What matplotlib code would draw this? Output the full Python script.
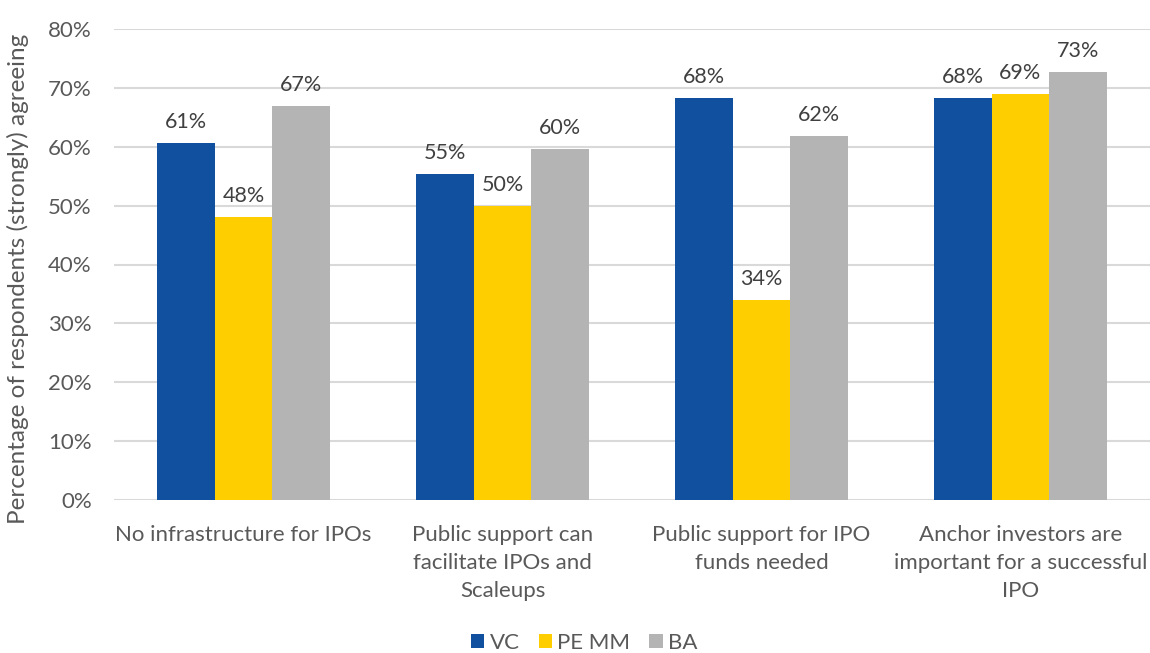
import matplotlib
matplotlib.use("Agg")
import matplotlib.pyplot as plt
import numpy as np

categories = ["No infrastructure for IPOs",
              "Public support can\nfacilitate IPOs and\nScaleups",
              "Public support for IPO\nfunds needed",
              "Anchor investors are\nimportant for a successful\nIPO"]
series_names = ["VC", "PE MM", "BA"]
vc = [60.7, 55.3, 68.3, 68.3]
pe_mm = [48.0, 49.9, 34.0, 69.0]
ba = [66.9, 59.6, 61.8, 72.7]
labels_vc = ["61%", "55%", "68%", "68%"]
labels_pe = ["48%", "50%", "34%", "69%"]
labels_ba = ["67%", "60%", "62%", "73%"]
yticks = [0, 10, 20, 30, 40, 50, 60, 70, 80]

colors = ["#11509F", "#FECE00", "#B4B4B4"]
txt = "#595959"
plt.rcParams['font.family'] = ['Lato', 'DejaVu Sans']

fig = plt.figure(figsize=(11.5, 6.53), dpi=100)
ax = fig.add_axes([114/1150, 1-500/653, 1036/1150, 471/653])

x = np.arange(len(categories))
w = 0.222
data = [vc, pe_mm, ba]
labs = [labels_vc, labels_pe, labels_ba]
for i, (vals, name, c, lb) in enumerate(zip(data, series_names, colors, labs)):
    bars = ax.bar(x + (i - 1) * w, vals, width=w, color=c, label=name, zorder=3)
    for b, t in zip(bars, lb):
        ax.annotate(t, (b.get_x() + b.get_width()/2, b.get_height()),
                    xytext=(0, 8), textcoords="offset points",
                    ha="center", va="bottom", fontsize=15.5, color="#404040")

ax.set_xlim(-0.5, 3.5)
ax.set_ylim(0, 80)
ax.set_yticks(yticks)
ax.set_yticklabels([f"{v}%" for v in yticks], fontsize=16, color=txt)
ax.set_xticks(x)
ax.set_xticklabels(categories, fontsize=16, color=txt, linespacing=1.5, va="top")
ax.tick_params(axis="both", length=0)
ax.tick_params(axis="x", pad=18)
ax.tick_params(axis="y", pad=16)
ax.yaxis.grid(True, color="#D9D9D9", linewidth=1.5, zorder=0)
for s in ax.spines.values():
    s.set_visible(False)
ax.set_ylabel("Percentage of respondents (strongly) agreeing", fontsize=17.5, color=txt, labelpad=8)
ax.yaxis.set_label_coords(-0.082, 0.47)

ax.legend(loc="center", bbox_to_anchor=(0.508, 1-643/653), bbox_transform=fig.transFigure,
          ncol=3, frameon=False, fontsize=16, handlelength=0.6, handleheight=0.6,
          handletextpad=0.25, columnspacing=0.85, labelcolor=txt)

fig.savefig("out.png", dpi=100, facecolor="white")
